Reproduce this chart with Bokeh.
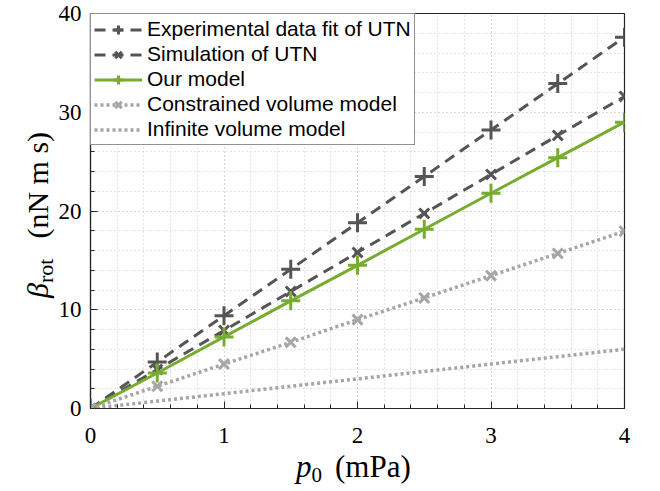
from bokeh.plotting import figure
from bokeh.layouts import row
from bokeh.models import Range1d, SingleIntervalTicker, Legend, LegendItem, Div
from bokeh.embed import file_html
from bokeh.resources import INLINE

# ---- data ----
p0 = [0, 0.5, 1, 1.5, 2, 2.5, 3, 3.5, 4]
exp_fit = [0, 4.7, 9.4, 14.1, 18.8, 23.5, 28.2, 32.9, 37.6]
sim_utn = [0, 3.95, 7.9, 11.85, 15.8, 19.75, 23.7, 27.65, 31.6]
our_model = [0, 3.6, 7.25, 10.9, 14.5, 18.15, 21.8, 25.4, 29.0]
constrained = [0, 2.25, 4.5, 6.7, 9.0, 11.2, 13.45, 15.7, 17.95]
infinite = [0, 0.75, 1.5, 2.25, 3.0, 3.75, 4.5, 5.25, 6.0]
labels = ["Experimental data fit of UTN", "Simulation of UTN", "Our model",
          "Constrained volume model", "Infinite volume model"]

DARK = "#555555"
GREEN = "#77AC30"
LIGHT = "#A6A6A6"
AX = "#262626"
GRID = "#c8c8c8"
SERIF = "Liberation Serif"

LEFT_W = 50
p = figure(width=644 - LEFT_W, height=475, output_backend="svg", toolbar_location=None,
           x_range=Range1d(0, 4), y_range=Range1d(0, 40),
           min_border_left=90 - LEFT_W, min_border_right=20, min_border_top=13,
           min_border_bottom=67)
p.background_fill_color = "white"
p.border_fill_color = None
p.outline_line_color = AX
p.outline_line_width = 1.2

xt = SingleIntervalTicker(interval=1, num_minor_ticks=5)
yt = SingleIntervalTicker(interval=10, num_minor_ticks=5)
p.xaxis.ticker = xt
p.yaxis.ticker = yt
p.xgrid.ticker = xt
p.ygrid.ticker = yt

for g in (p.xgrid, p.ygrid):
    g.grid_line_color = GRID
    g.grid_line_dash = "1 3"
    g.grid_line_width = 1
    g.minor_grid_line_color = GRID
    g.minor_grid_line_dash = "1 3"
    g.minor_grid_line_width = 1

for ax in (p.xaxis[0], p.yaxis[0]):
    ax.axis_line_color = AX
    ax.axis_line_width = 1.2
    ax.major_tick_line_color = AX
    ax.minor_tick_line_color = AX
    ax.major_tick_in = 7
    ax.major_tick_out = 0
    ax.minor_tick_in = 4
    ax.minor_tick_out = 0
    ax.major_label_text_font = SERIF
    ax.major_label_text_font_size = "23px"
    ax.major_label_text_color = "black"
p.xaxis.major_label_standoff = 19
p.yaxis.major_label_standoff = 9

# ---- series ----
l1 = p.line(p0, exp_fit, line_color=DARK, line_width=3, line_dash="11 7")
m1 = p.scatter(p0, exp_fit, marker="cross", size=19, line_color=DARK, line_width=3)
l2 = p.line(p0, sim_utn, line_color=DARK, line_width=3, line_dash="11 7")
m2 = p.scatter(p0, sim_utn, marker="x", size=14, line_color=DARK, line_width=3)
l3 = p.line(p0, our_model, line_color=GREEN, line_width=3)
m3 = p.scatter(p0, our_model, marker="cross", size=19, line_color=GREEN, line_width=3)
l4 = p.line(p0, constrained, line_color=LIGHT, line_width=3.5, line_dash="3 3")
m4 = p.scatter(p0, constrained, marker="x", size=14, line_color=LIGHT, line_width=3)
l5 = p.line(p0, infinite, line_color=LIGHT, line_width=3.5, line_dash="3 3")

items = [LegendItem(label=labels[0], renderers=[l1, m1]),
         LegendItem(label=labels[1], renderers=[l2, m2]),
         LegendItem(label=labels[2], renderers=[l3, m3]),
         LegendItem(label=labels[3], renderers=[l4, m4]),
         LegendItem(label=labels[4], renderers=[l5])]
leg = Legend(items=items, location="top_left", margin=0, padding=3, spacing=1,
             glyph_width=48, glyph_height=23, label_height=22, label_standoff=5,
             label_text_font="Liberation Sans", label_text_font_size="21px",
             label_text_color="black", border_line_color=AX, border_line_width=1.2,
             background_fill_color="white", background_fill_alpha=1)
p.add_layout(leg)

# ---- axis labels: real HTML text with italic / subscript pieces ----
font = "font-family:'Liberation Serif',serif; color:black; white-space:nowrap; line-height:30px;"
xlab = (f'<div style="position:absolute; left:296px; top:452px; font-size:31px; {font}">'
        '<i>p</i><span style="font-size:21px; position:relative; top:5px;">0</span>'
        '<span style="margin-left:13px;">(mPa)</span></div>')
ylab = (f'<div style="position:absolute; left:23px; top:298px; font-size:30px; {font}'
        ' transform-origin:0 0; transform:rotate(-90deg);">'
        '<i>β</i><span style="font-size:22px; position:relative; top:5px;">rot</span>'
        '<span style="margin-left:20px;">(nN m s)</span></div>')
labels_div = Div(text=xlab + ylab, width=LEFT_W, height=475, margin=0,
                 styles={"overflow": "visible"})

layout = row(labels_div, p)
open("out.html", "w").write(file_html(layout, INLINE))
